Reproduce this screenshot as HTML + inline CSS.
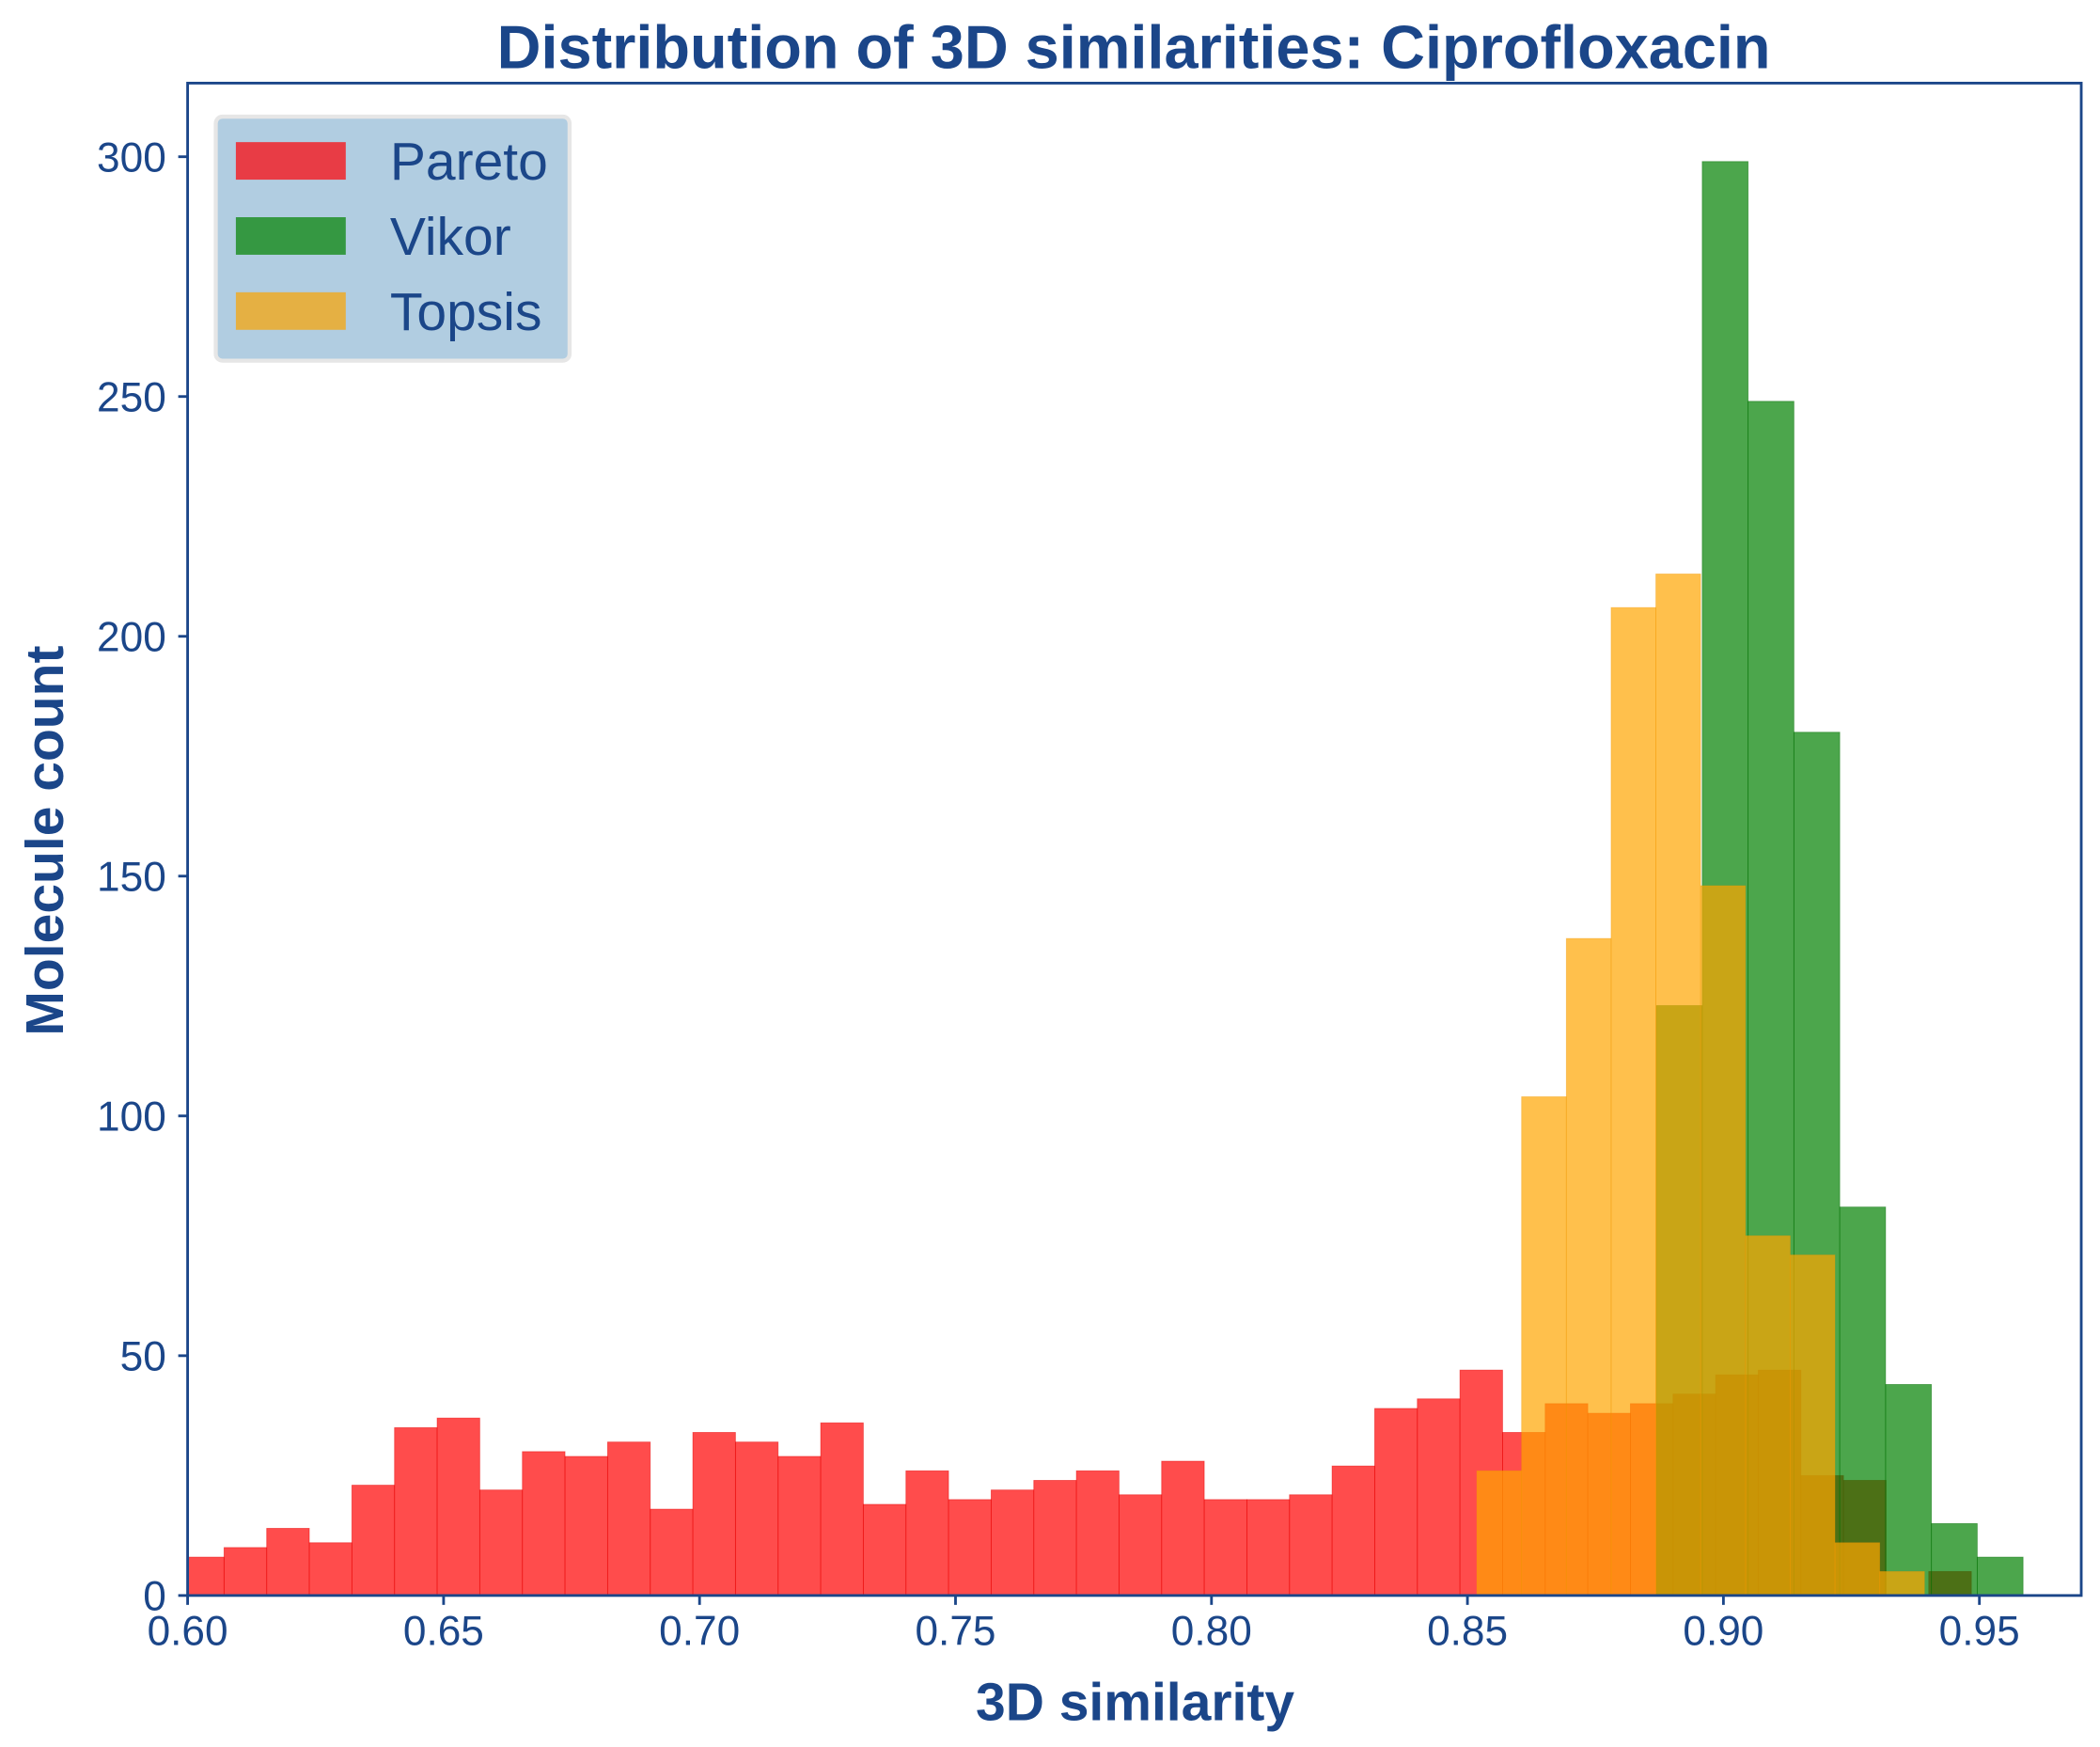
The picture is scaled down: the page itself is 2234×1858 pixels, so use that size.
<!DOCTYPE html>
<html><head><style>html,body{margin:0;padding:0;background:#fff}svg{display:block}</style></head>
<body>
<svg width="2234" height="1858" viewBox="0 0 1567 1303" preserveAspectRatio="none" xmlns="http://www.w3.org/2000/svg" font-family="Liberation Sans, Arial, sans-serif" fill="#1b4689">
<defs><clipPath id="c"><rect x="140" y="62" width="1413" height="1128"/></clipPath></defs>
<g clip-path="url(#c)" stroke-width="0.6">
<g fill="rgb(255,0,0)" fill-opacity="0.7" stroke="rgb(230,0,0)" stroke-opacity="0.5" id="p"></g>
<g fill="rgb(0,128,0)" fill-opacity="0.7" stroke="rgb(0,110,0)" stroke-opacity="0.5" id="v"></g>
<g fill="rgb(255,165,0)" fill-opacity="0.7" stroke="rgb(240,150,0)" stroke-opacity="0.4" id="t"></g>
</g>
<rect x="140" y="62" width="1413" height="1128" fill="none" stroke="#1b4689" stroke-width="2"/>
<g id="ticks" stroke="#1b4689" stroke-width="2"></g>
<g font-size="31" text-anchor="middle" id="xl"></g>
<g font-size="31" text-anchor="end" id="yl"></g>
<text x="846" y="51" font-size="45.5" font-weight="bold" text-anchor="middle">Distribution of 3D similarities: Ciprofloxacin</text>
<text x="847" y="1283" font-size="40" font-weight="bold" text-anchor="middle">3D similarity</text>
<text transform="translate(47,627) rotate(-90)" font-size="40" font-weight="bold" text-anchor="middle">Molecule count</text>
<rect x="161" y="87" width="264" height="182" rx="5" fill="#b1cde1" stroke="#e6e6e6" stroke-width="3"/>
<rect x="176" y="106" width="82" height="28" fill="#e83c45"/>
<rect x="176" y="162" width="82" height="28" fill="#359842"/>
<rect x="176" y="218" width="82" height="28" fill="#e5b043"/>
<text x="291" y="134" font-size="40">Pareto</text>
<text x="291" y="190" font-size="40">Vikor</text>
<text x="291" y="246" font-size="40">Topsis</text>
</svg>
<script>
const NS="http://www.w3.org/2000/svg";
const Y=v=>1190-v*3.577;
function bars(id,start,w,vals){const g=document.getElementById(id);vals.forEach((v,i)=>{if(!v)return;const r=document.createElementNS(NS,"rect");r.setAttribute("x",start+i*w);r.setAttribute("width",w);r.setAttribute("y",Y(v));r.setAttribute("height",v*3.577);g.appendChild(r);});}
bars("p",135.4,31.8,[8,10,14,11,23,35,37,22,30,29,32,18,34,32,29,36,19,26,20,22,24,26,21,28,20,20,21,27,39,41,47,34,40,38,40,42,46,47,25,24,0,5]);
bars("v",1236,34.2,[123,299,249,180,81,44,15,8]);
bars("t",1102,33.4,[26,104,137,206,213,148,75,71,11,5]);
const tk=document.getElementById("ticks"),xl=document.getElementById("xl"),yl=document.getElementById("yl");
function line(x1,y1,x2,y2){const l=document.createElementNS(NS,"line");l.setAttribute("x1",x1);l.setAttribute("y1",y1);l.setAttribute("x2",x2);l.setAttribute("y2",y2);tk.appendChild(l);}
function txt(g,x,y,s){const t=document.createElementNS(NS,"text");t.setAttribute("x",x);t.setAttribute("y",y);t.textContent=s;g.appendChild(t);}
for(let i=0;i<8;i++){const x=140+i*191;line(x,1190,x,1197);txt(xl,x,1227,(0.6+i*0.05).toFixed(2));}
for(let i=0;i<=6;i++){const v=i*50,y=Y(v);line(133,y,140,y);txt(yl,124,y+11,String(v));}
</script>
</body></html>
